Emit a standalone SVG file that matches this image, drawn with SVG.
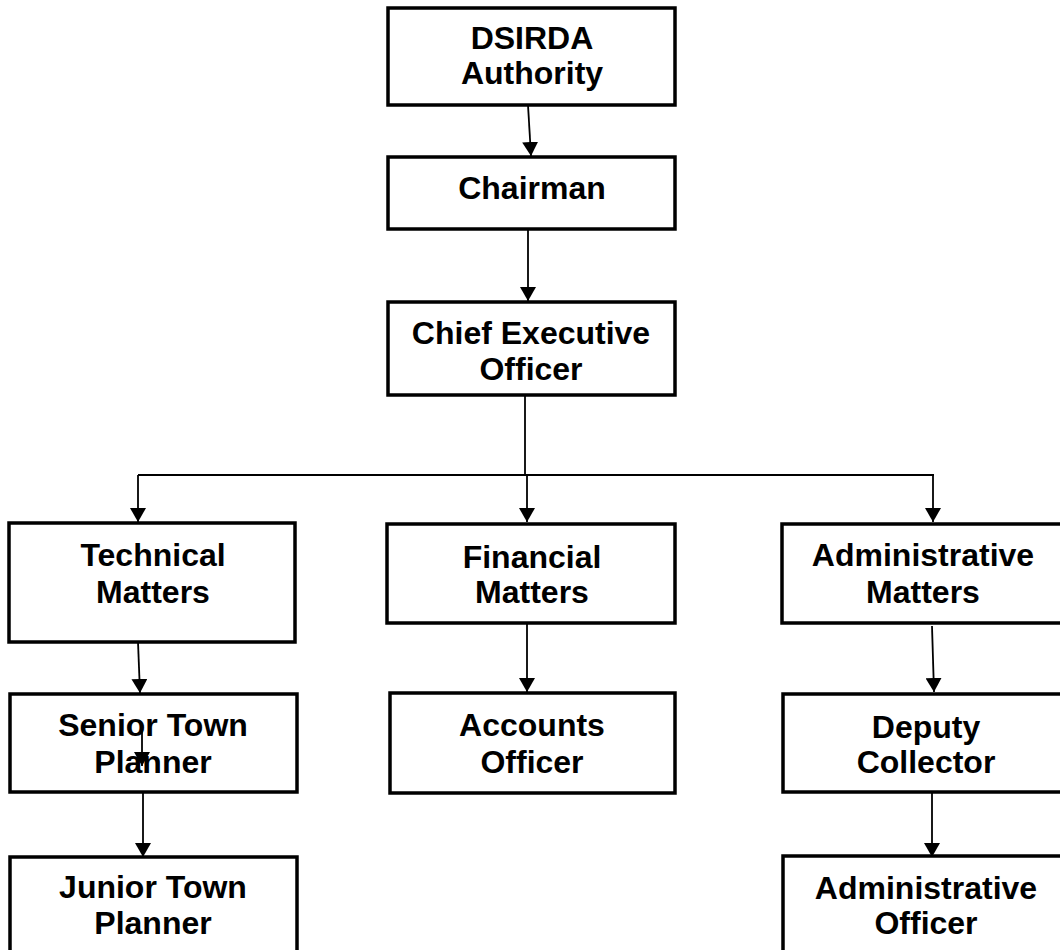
<svg xmlns="http://www.w3.org/2000/svg" width="1060" height="950" viewBox="0 0 1060 950">
<style>
.box{fill:#fff;stroke:#000;stroke-width:3.5}
.t{font-family:"Liberation Sans",Arial,sans-serif;font-weight:bold;font-size:32px;fill:#000;text-anchor:middle}
.c{fill:none;stroke:#000;stroke-width:1.8}
</style>
<defs>
<marker id="ah" markerUnits="userSpaceOnUse" markerWidth="15" markerHeight="16" refX="14" refY="8" orient="auto">
<path d="M0,0 L14,8 L0,16 z" fill="#000"/>
</marker>
</defs>
<rect width="1060" height="950" fill="#fff"/>
<g id="connectors">
<line class="c" x1="528" y1="105" x2="531" y2="156" marker-end="url(#ah)"/>
<line class="c" x1="528" y1="229" x2="528" y2="301" marker-end="url(#ah)"/>
<line class="c" x1="525" y1="395" x2="525" y2="476"/>
<line class="c" x1="138" y1="475" x2="934" y2="475"/>
<line class="c" x1="138" y1="475" x2="138" y2="522" marker-end="url(#ah)"/>
<line class="c" x1="527" y1="475" x2="527" y2="522" marker-end="url(#ah)"/>
<line class="c" x1="933" y1="475" x2="933" y2="522" marker-end="url(#ah)"/>
<line class="c" x1="138" y1="642" x2="140" y2="693" marker-end="url(#ah)"/>
<line class="c" x1="527" y1="623" x2="527" y2="692" marker-end="url(#ah)"/>
<line class="c" x1="932" y1="626" x2="934" y2="692" marker-end="url(#ah)"/>
<line class="c" x1="143" y1="792" x2="143" y2="857" marker-end="url(#ah)"/>
<line class="c" x1="932" y1="792" x2="932" y2="857" marker-end="url(#ah)"/>
</g>
<g id="dsirda"><rect class="box" x="388" y="8" width="287" height="97"/>
<text class="t" x="532" y="49">DSIRDA</text><text class="t" x="532" y="84">Authority</text></g>
<g id="chairman"><rect class="box" x="388" y="157" width="287" height="72"/>
<text class="t" x="532" y="199">Chairman</text></g>
<g id="ceo"><rect class="box" x="388" y="302" width="287" height="93"/>
<text class="t" x="531" y="344">Chief Executive</text><text class="t" x="531" y="380">Officer</text></g>
<g id="technical"><rect class="box" x="9" y="523" width="286" height="119"/>
<text class="t" x="153" y="566">Technical</text><text class="t" x="153" y="603">Matters</text></g>
<g id="financial"><rect class="box" x="387" y="524" width="288" height="99"/>
<text class="t" x="532" y="568">Financial</text><text class="t" x="532" y="603">Matters</text></g>
<g id="administrative-matters"><rect class="box" x="782" y="524" width="290" height="99"/>
<text class="t" x="923" y="566">Administrative</text><text class="t" x="923" y="603">Matters</text></g>
<g id="senior"><rect class="box" x="10" y="694" width="287" height="98"/>
<text class="t" x="153" y="736">Senior Town</text><text class="t" x="153" y="773">Planner</text></g>
<g id="accounts"><rect class="box" x="390" y="693" width="285" height="100"/>
<text class="t" x="532" y="736">Accounts</text><text class="t" x="532" y="773">Officer</text></g>
<g id="deputy"><rect class="box" x="783" y="694" width="290" height="98"/>
<text class="t" x="926" y="738">Deputy</text><text class="t" x="926" y="773">Collector</text></g>
<g id="junior"><rect class="box" x="10" y="857" width="287" height="110"/>
<text class="t" x="153" y="898">Junior Town</text><text class="t" x="153" y="934">Planner</text></g>
<g id="administrative-officer"><rect class="box" x="783" y="856" width="290" height="110"/>
<text class="t" x="926" y="899">Administrative</text><text class="t" x="926" y="934">Officer</text></g>
<g id="stray-connector"><line class="c" x1="142" y1="726" x2="142" y2="766" marker-end="url(#ah)"/></g>
</svg>
